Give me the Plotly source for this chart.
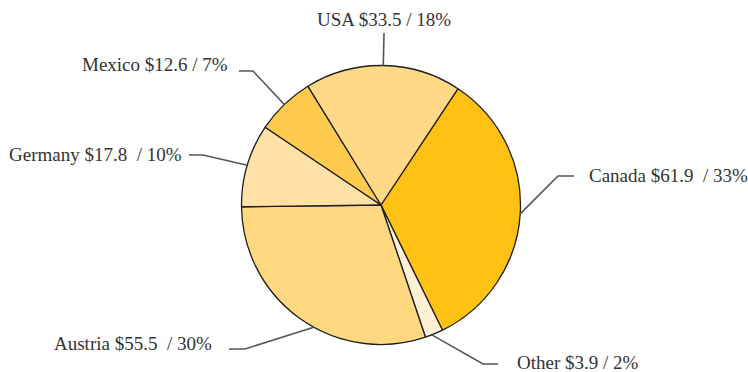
import math
import plotly.graph_objects as go

W, H = 748, 372

# ---- data ----
countries = ["Canada", "Other", "Austria", "Germany", "Mexico", "USA"]
values = [61.9, 3.9, 55.5, 17.8, 12.6, 33.5]
gaps = ["  ", " ", "  ", "  ", " ", " "]  # spacing before the slash, as in the original labels
colors = ["#FFC114", "#FFEFD4", "#FFD87F", "#FFE1A6", "#FFCB4F", "#FFD986"]

# ---- layout constants (pixels) ----
CX, CY, R = 381.0, 205.0, 139.5
ROTATION = 33.5
# elbow point, line end, text anchor point, text xanchor, leader start angle shift (deg)
label_layout = {
    "Canada":  dict(elbow=(558, 176), end=(574, 176), text=(587, 175), anchor="left", shift=0),
    "Other":   dict(elbow=(483, 364), end=(498, 364), text=(515, 362), anchor="left", shift=1),
    "Austria": dict(elbow=(245, 349), end=(229, 349), text=(214, 343), anchor="right", shift=-6.5),
    "Germany": dict(elbow=(203, 155), end=(189, 155), text=(184, 154), anchor="right", shift=0),
    "Mexico":  dict(elbow=(253, 71), end=(239, 71), text=(230, 64), anchor="right", shift=0),
    "USA":     dict(elbow=None, end=(384, 33), text=(384, 20), anchor="center", shift=0),
}

def px(x):
    return x / W

def py(y):
    return 1 - y / H

total = sum(values)
labels = [f"{c} ${v:.1f}{g}/ {round(100 * v / total)}%" for c, v, g in zip(countries, values, gaps)]

fig = go.Figure(go.Pie(
    labels=countries,
    values=values,
    sort=False,
    direction="clockwise",
    rotation=ROTATION,
    textinfo="none",
    hoverinfo="label+value+percent",
    marker=dict(colors=colors, line=dict(color="#1e1e1e", width=1.3)),
    domain=dict(x=[px(CX - R), px(CX + R)], y=[py(CY + R), py(CY - R)]),
    showlegend=False,
))

shapes = []
annotations = []
cum = 0.0
for c, v, lab in zip(countries, values, labels):
    L = label_layout[c]
    mid = math.radians(ROTATION + 360 * (cum + v / 2) / total + L["shift"])
    cum += v
    ex = CX + R * math.sin(mid)
    ey = CY - R * math.cos(mid)
    pts = [(ex, ey)]
    if L["elbow"] is not None:
        pts.append(L["elbow"])
    pts.append(L["end"])
    path = "M " + " L ".join(f"{px(x)},{py(y)}" for x, y in pts)
    shapes.append(dict(type="path", path=path, xref="paper", yref="paper",
                       line=dict(color="#555555", width=1.6)))
    tx, ty = L["text"]
    annotations.append(dict(text=lab, x=px(tx), y=py(ty), xref="paper", yref="paper",
                            xanchor=L["anchor"], yanchor="middle", showarrow=False,
                            font=dict(family="Liberation Serif, Times New Roman, serif",
                                      size=19, color="#333333")))

fig.update_layout(
    width=W, height=H,
    margin=dict(l=0, r=0, t=0, b=0),
    paper_bgcolor="white",
    plot_bgcolor="white",
    shapes=shapes,
    annotations=annotations,
)

fig.write_html("out.html")
